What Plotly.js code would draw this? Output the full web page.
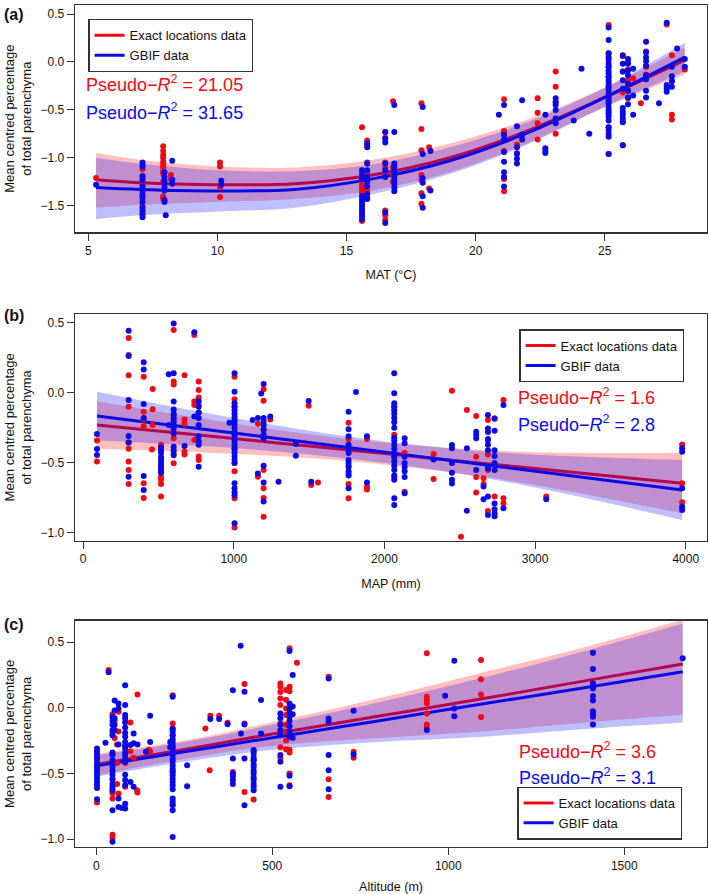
<!DOCTYPE html>
<html><head><meta charset="utf-8">
<script src="https://cdn.plot.ly/plotly-3.0.1.min.js"></script>
<style>html,body{margin:0;padding:0;background:#fff}</style>
</head><body><div id="chart" style="width:709px;height:894px"></div>
<script>
// ---------- Panel (a): MAT ----------
const matRedCols = [5.3, 7.1, 7.9, 8.2, 10.1, 15.6, 15.8, 16.5, 16.8, 17.9, 18.2, 21.1, 21.6, 22.4, 23.1, 25.15, 25.7, 25.9, 26.1, 26.4, 26.6, 27.4, 27.6, 28.1];
const matRedVals = [
  [-1.21],
  [-1.07, -1.12, -1.20, -1.30, -1.40, -1.50, -1.58],
  [-0.88, -0.93, -0.97, -1.00, -1.04, -1.07, -1.10, -1.14, -1.17, -1.25, -1.40, -1.43],
  [-1.18, -1.22],
  [-1.05, -1.09, -1.31, -1.41],
  [-0.68, -1.28, -1.31, -1.34, -1.37, -1.66],
  [-0.82, -0.87, -1.05, -1.16, -1.35, -1.42],
  [-0.73, -0.79, -1.05, -1.10, -1.55, -1.60, -1.65],
  [-0.41, -1.10, -1.18, -1.25],
  [-0.43, -0.70, -0.92, -1.18, -1.23, -1.37, -1.48],
  [-0.89, -1.32],
  [-0.39, -0.72, -0.75, -0.93, -1.22, -1.35],
  [-0.86, -0.95],
  [-0.38, -0.53, -0.64, -0.81],
  [-0.10, -0.26, -0.42, -0.60, -0.75],
  [0.385, 0.09, -0.05, -0.15, -0.25, -0.38, -0.52, -0.68, -0.96],
  [0.06, -0.10, -0.32, -0.62, -0.87],
  [0.00, -0.08, -0.20, -0.30, -0.38],
  [-0.17],
  [-0.43],
  [0.11, -0.05, -0.13],
  [0.39, -0.25],
  [0.07, -0.20, -0.55, -0.60],
  [-0.08]
];
const matBlueCols = [5.3, 7.1, 7.95, 8.0, 8.25, 10.15, 15.6, 15.8, 16.5, 16.85, 17.95, 18.25, 20.9, 21.1, 21.6, 21.8, 22.7, 23.1, 23.8, 24.1, 24.4, 25.15, 25.7, 25.9, 26.1, 26.6, 27.1, 27.4, 27.6, 27.8, 28.1];
const matBlueVals = [
  [-1.28],
  [-1.05, -1.09, -1.19, -1.23, -1.30, -1.34, -1.38, -1.42, -1.46, -1.52, -1.55, -1.59, -1.62],
  [-1.15, -1.20, -1.24, -1.27, -1.31, -1.34, -1.44, -1.46],
  [-1.60],
  [-1.03, -1.23, -1.27],
  [-1.24, -1.28],
  [-1.13, -1.17, -1.22, -1.40, -1.43, -1.46, -1.49, -1.52, -1.55, -1.58, -1.61, -1.64],
  [-0.85, -0.89, -1.06, -1.13, -1.20, -1.25, -1.30, -1.38, -1.43],
  [-0.73, -0.80, -0.84, -1.06, -1.13, -1.20, -1.57, -1.68],
  [-0.45, -0.73, -1.06, -1.09, -1.13, -1.16, -1.20, -1.24, -1.27, -1.31, -1.35],
  [-0.47, -0.96, -1.21, -1.26, -1.40, -1.52],
  [-0.93, -1.34],
  [-0.55],
  [-0.45, -0.76, -0.81, -0.94, -1.04, -1.15, -1.20, -1.30],
  [-0.67, -0.89, -0.96, -1.01, -1.06],
  [-0.40, -0.76, -0.81],
  [-0.55, -0.90, -0.93, -0.95],
  [-0.38, -0.42, -0.45, -0.50, -0.59, -0.64],
  [-0.61],
  [-0.07],
  [-0.75],
  [0.36, 0.23, 0.09, 0.05, 0.02, -0.02, -0.05, -0.09, -0.12, -0.16, -0.19, -0.22, -0.26, -0.29, -0.33, -0.36, -0.40, -0.43, -0.47, -0.50, -0.54, -0.57, -0.61, -0.68, -0.71, -0.75, -0.78, -0.96],
  [0.07, -0.02, -0.10, -0.19, -0.28, -0.48, -0.52, -0.55, -0.59, -0.63, -0.87],
  [0.03, -0.02, -0.09, -0.14, -0.23, -0.30, -0.37, -0.44],
  [-0.07, -0.35, -0.55],
  [0.21, 0.10, 0.05, 0.01, -0.04, -0.14, -0.18, -0.30, -0.37],
  [-0.43],
  [0.41, -0.24, -0.28, -0.31],
  [-0.05, -0.15, -0.20, -0.26],
  [0.14],
  [0.03, -0.05]
];
const matFitX      = [5.3, 7, 10, 13, 16, 19, 22, 25, 28.1];
const matRedFit    = [-1.23, -1.26, -1.28, -1.27, -1.18, -1.00, -0.72, -0.37, 0.02];
const matRedUpper  = [-0.95, -1.02, -1.09, -1.10, -1.02, -0.85, -0.60, -0.27, 0.15];
const matRedLower  = [-1.52, -1.49, -1.46, -1.43, -1.34, -1.15, -0.85, -0.47, -0.13];
const matBlueFit   = [-1.31, -1.33, -1.345, -1.33, -1.22, -1.03, -0.74, -0.37, 0.05];
const matBlueUpper = [-1.00, -1.06, -1.13, -1.14, -1.07, -0.89, -0.63, -0.27, 0.20];
const matBlueLower = [-1.64, -1.60, -1.56, -1.52, -1.38, -1.17, -0.86, -0.47, -0.10];

// ---------- Panel (b): MAP ----------
const mapRedCols = [92, 302, 402, 457, 462, 517, 601, 673, 738, 767, 1005, 1160, 1198, 1242, 1497, 1514, 1559, 1762, 1884, 2065, 2134, 2326, 2448, 2508, 2547, 2609, 2658, 2687, 2731, 2790, 3074, 3976];
const mapRedVals = [
  [-0.34, -0.49],
  [0.39, 0.27, 0.125, -0.10, -0.355, -0.40, -0.49, -0.55, -0.65],
  [0.115, -0.135, -0.19, -0.24, -0.646, -0.75],
  [-0.404],
  [0.027, -0.118, -0.23],
  [-0.37, -0.50, -0.55, -0.60, -0.62, -0.65, -0.74],
  [0.448, 0.08, 0.06, -0.15, -0.19, -0.325, -0.43, -0.503],
  [0.125, -0.19, -0.22, -0.42, -0.44],
  [0.412, -0.063, -0.087, -0.337],
  [0.08, 0.02, -0.033, -0.09, -0.14, -0.455, -0.48],
  [0.115, -0.046, -0.10, -0.20, -0.30, -0.40, -0.50, -0.56, -0.753, -0.96],
  [-0.22, -0.598],
  [0.025, -0.056, -0.26, -0.55, -0.68, -0.75, -0.884],
  [-0.19],
  [-0.092],
  [-0.658],
  [-0.639],
  [-0.213, -0.33, -0.52, -0.58, -0.65, -0.753],
  [-0.33, -0.67, -0.69],
  [-0.10, -0.30, -0.45, -0.60],
  [-0.43, -0.705],
  [-0.437, -0.615],
  [0.014],
  [-1.026],
  [-0.123],
  [-0.166, -0.456, -0.60, -0.712],
  [-0.61, -0.65],
  [-0.194, -0.34, -0.44, -0.55, -0.843],
  [-0.182, -0.74],
  [-0.052, -0.753, -0.788],
  [-0.74],
  [-0.368, -0.645, -0.78]
];
const mapBlueCols = [92, 302, 402, 517, 568, 601, 673, 738, 767, 972, 1005, 1125, 1160, 1182, 1198, 1242, 1297, 1412, 1497, 1514, 1762, 1811, 1884, 2065, 2134, 2326, 2448, 2547, 2609, 2658, 2687, 2731, 2790, 3074, 3976];
const mapBlueVals = [
  [-0.294, -0.401, -0.444],
  [0.443, 0.262, -0.052, -0.309, -0.355, -0.598],
  [0.217, 0.167, -0.08, -0.18, -0.594, -0.693],
  [-0.39, -0.41, -0.43, -0.46, -0.48, -0.51, -0.53, -0.55, -0.57],
  [0.132, -0.23],
  [0.495, 0.14, -0.063, -0.12, -0.155, -0.18, -0.205, -0.23, -0.255, -0.29, -0.385, -0.41, -0.445],
  [-0.38],
  [0.431, -0.17],
  [-0.06, -0.10, -0.14, -0.18, -0.23, -0.31, -0.345, -0.37, -0.527],
  [-0.213],
  [0.139, 0.008, -0.075, -0.10, -0.125, -0.15, -0.175, -0.20, -0.225, -0.25, -0.275, -0.30, -0.325, -0.35, -0.375, -0.40, -0.425, -0.45, -0.475, -0.50, -0.645, -0.68, -0.71, -0.73, -0.931],
  [-0.194],
  [-0.18, -0.575],
  [-0.005],
  [0.062, -0.18, -0.205, -0.23, -0.265, -0.30, -0.325, -0.52, -0.64, -0.776],
  [-0.17],
  [-0.634],
  [-0.366, -0.449],
  [-0.058],
  [-0.634],
  [-0.135, -0.26, -0.31, -0.37, -0.40, -0.43, -0.48, -0.50, -0.53, -0.56, -0.59, -0.68],
  [0.005],
  [-0.31, -0.64],
  [0.139, -0.004, -0.075, -0.10, -0.125, -0.15, -0.18, -0.21, -0.25, -0.32, -0.34, -0.37, -0.40, -0.43, -0.46, -0.49, -0.52, -0.55, -0.59, -0.62, -0.753, -0.80],
  [-0.325, -0.36, -0.456, -0.50, -0.53, -0.56, -0.60, -0.717],
  [-0.475],
  [-0.372, -0.396, -0.50, -0.57, -0.62, -0.647],
  [-0.396, -0.841],
  [-0.277, -0.30, -0.325, -0.55],
  [-0.668, -0.76],
  [-0.159, -0.254, -0.28, -0.33, -0.37, -0.41, -0.54, -0.74, -0.871],
  [-0.185, -0.27, -0.41, -0.45, -0.50, -0.55, -0.79, -0.83, -0.86, -0.88],
  [-0.087, -0.824],
  [-0.76],
  [-0.396, -0.42, -0.68, -0.812, -0.836]
];
const mapFitX      = [92, 800, 1500, 2200, 2900, 3976];
const mapRedFit    = [-0.23, -0.305, -0.38, -0.455, -0.53, -0.645];
const mapRedUpper  = [-0.06, -0.185, -0.295, -0.375, -0.42, -0.43];
const mapRedLower  = [-0.40, -0.425, -0.465, -0.535, -0.64, -0.86];
const mapBlueFit   = [-0.166, -0.26, -0.355, -0.45, -0.545, -0.693];
const mapBlueUpper = [0.008, -0.14, -0.27, -0.37, -0.435, -0.479];
const mapBlueLower = [-0.34, -0.38, -0.44, -0.53, -0.655, -0.907];

// ---------- Panel (c): Altitude ----------
const altRedCols = [2, 35, 46, 52, 59, 63, 82, 97, 106, 116, 117, 149, 153, 217, 310, 322, 324, 349, 373, 388, 421, 447, 523, 539, 549, 570, 660, 731, 939, 1093, 1411];
const altRedVals = [
  [-0.33, -0.38, -0.45, -0.72],
  [0.287],
  [-0.05, -0.19, -0.35, -0.55, -0.62, -0.65, -0.69, -0.965, -0.99],
  [-0.10, -0.23],
  [-0.28, -0.42, -0.58],
  [-0.03, -0.18, -0.653],
  [-0.29, -0.42, -0.60],
  [-0.112, -0.33],
  [-0.38],
  [-0.627],
  [0.101, -0.645],
  [-0.32],
  [-0.33],
  [0.096, -0.12, -0.16, -0.21, -0.28, -0.35, -0.48, -0.74],
  [-0.157],
  [-0.475],
  [-0.061],
  [-0.061],
  [-0.115],
  [-0.488],
  [0.18, -0.12, -0.64],
  [-0.33, -0.40, -0.698],
  [0.185, 0.16, 0.12, 0.07, 0.02, -0.12, -0.30, -0.38],
  [0.135, 0.06, -0.005, -0.055, -0.13, -0.18, -0.25, -0.315],
  [0.452, 0.16, 0.125, -0.32, -0.34, -0.50, -0.59],
  [0.343],
  [0.235, -0.543, -0.678],
  [-0.335, -0.38],
  [0.414, 0.084, 0.058, 0.033, -0.043, -0.127, -0.152],
  [0.363, 0.216, 0.101, -0.071],
  [0.419]
];
const altBlueCols = [2, 26, 35, 46, 52, 63, 73, 82, 97, 106, 117, 141, 153, 210, 217, 258, 324, 349, 373, 388, 410, 411, 421, 447, 468, 523, 549, 558, 660, 731, 939, 991, 1017, 1411, 1666];
const altBlueVals = [
  [-0.31, -0.335, -0.36, -0.385, -0.41, -0.435, -0.46, -0.485, -0.51, -0.535, -0.56, -0.585, -0.61, -0.696],
  [-0.267],
  [0.27],
  [-0.07, -0.10, -0.13, -0.17, -0.21, -0.34, -0.36, -0.40, -0.43, -0.45, -0.48, -0.51, -0.54, -0.58, -0.60, -0.63, -0.78, -1.02],
  [0.056, -0.02, -0.08, -0.13, -0.17],
  [0.033, -0.005, -0.28, -0.69, -0.754],
  [-0.762],
  [0.172, 0.02, -0.056, -0.08, -0.11, -0.15, -0.19, -0.22, -0.26, -0.29, -0.31, -0.34, -0.36, -0.39, -0.41, -0.51, -0.55, -0.59, -0.73, -0.767],
  [-0.284, -0.564],
  [-0.196, -0.27, -0.60],
  [-0.28],
  [-0.335],
  [-0.061, -0.26],
  [-0.26, -0.30],
  [0.084, -0.16, -0.18, -0.21, -0.24, -0.26, -0.29, -0.31, -0.34, -0.36, -0.39, -0.41, -0.44, -0.465, -0.49, -0.513, -0.54, -0.565, -0.59, -0.62, -0.69, -0.715, -0.74, -0.78, -0.983],
  [-0.437, -0.597],
  [-0.086],
  [-0.086],
  [-0.125],
  [0.134, -0.386, -0.50, -0.52, -0.55, -0.58],
  [0.472],
  [-0.196],
  [0.122, -0.127, -0.386, -0.742],
  [-0.322, -0.35, -0.38, -0.40, -0.43, -0.45, -0.48, -0.50, -0.53, -0.55, -0.58, -0.60, -0.627],
  [0.058, -0.196],
  [-0.043, -0.08, -0.13, -0.17, -0.21, -0.36, -0.41, -0.60],
  [0.431, 0.033, -0.005, -0.04, -0.07, -0.10, -0.14, -0.18, -0.22, -0.518, -0.597],
  [0.249, 0.01, -0.05, -0.23],
  [0.223, -0.081, -0.107, -0.36, -0.475, -0.62],
  [-0.023, -0.355],
  [-0.17],
  [0.091],
  [0.358, -0.005, -0.064],
  [0.419, 0.294, 0.185, 0.165, 0.147, 0.089, 0.056, -0.026, -0.048, -0.069, -0.127],
  [0.376]
];
const altFitX      = [0, 250, 500, 800, 1100, 1400, 1666];
const altRedFit    = [-0.432, -0.317, -0.20, -0.065, 0.07, 0.21, 0.333];
const altRedUpper  = [-0.35, -0.25, -0.11, 0.07, 0.27, 0.47, 0.67];
const altRedLower  = [-0.515, -0.39, -0.29, -0.23, -0.18, -0.11, -0.056];
const altBlueFit   = [-0.442, -0.335, -0.228, -0.10, 0.03, 0.158, 0.274];
const altBlueUpper = [-0.36, -0.26, -0.13, 0.04, 0.23, 0.44, 0.64];
const altBlueLower = [-0.525, -0.41, -0.32, -0.26, -0.22, -0.16, -0.112];

const seriesNames = ['Exact locations data', 'GBIF data'];
const r2Labels = [['21.05', '31.65'], ['1.6', '2.8'], ['3.6', '3.1']];
const axisTitles = ['MAT (°C)', 'MAP (mm)', 'Altitude (m)'];
const panelLabels = ['(a)', '(b)', '(c)'];

// ---------- styling ----------
const FONT = 'Liberation Sans, Arial, Helvetica, sans-serif';
const RED = '#f00a14', BLUE = '#0a0ae8';
const RED_BAND = 'rgba(255,0,0,0.25)', BLUE_BAND = 'rgba(0,0,255,0.25)';

function flat(cols, vals) {
  const xs = [], ys = [];
  cols.forEach((c, i) => vals[i].forEach(v => { xs.push(c); ys.push(v); }));
  return {xs, ys};
}
function bandLower(x, lo, color, ax, shape) {
  return {x: x, y: lo, xaxis: 'x' + ax, yaxis: 'y' + ax, mode: 'lines',
    line: {width: 0, color: color, shape: shape}, hoverinfo: 'skip', showlegend: false};
}
function bandUpper(x, up, color, ax, shape) {
  return {x: x, y: up, xaxis: 'x' + ax, yaxis: 'y' + ax, mode: 'lines', fill: 'tonexty', fillcolor: color,
    line: {width: 0, color: color, shape: shape}, hoverinfo: 'skip', showlegend: false};
}
function fit(x, y, color, ax, shape, name, leg) {
  return {x: x, y: y, xaxis: 'x' + ax, yaxis: 'y' + ax, mode: 'lines', name: name,
    line: {color: color, width: 3, shape: shape}, legend: leg, showlegend: true};
}
function pts(cols, vals, color, ax) {
  const f = flat(cols, vals);
  return {x: f.xs, y: f.ys, xaxis: 'x' + ax, yaxis: 'y' + ax, mode: 'markers',
    marker: {color: color, size: 6}, showlegend: false, cliponaxis: false};
}

const panels = [
  {ax: '', leg: 'legend', shape: 'spline', fx: matFitX, rf: matRedFit, ru: matRedUpper, rl: matRedLower, bf: matBlueFit, bu: matBlueUpper, bl: matBlueLower, rc: matRedCols, rv: matRedVals, bc: matBlueCols, bv: matBlueVals},
  {ax: '2', leg: 'legend2', shape: 'spline', fx: mapFitX, rf: mapRedFit, ru: mapRedUpper, rl: mapRedLower, bf: mapBlueFit, bu: mapBlueUpper, bl: mapBlueLower, rc: mapRedCols, rv: mapRedVals, bc: mapBlueCols, bv: mapBlueVals},
  {ax: '3', leg: 'legend3', shape: 'spline', fx: altFitX, rf: altRedFit, ru: altRedUpper, rl: altRedLower, bf: altBlueFit, bu: altBlueUpper, bl: altBlueLower, rc: altRedCols, rv: altRedVals, bc: altBlueCols, bv: altBlueVals}
];
const data = [];
panels.forEach(p => {
  data.push(bandLower(p.fx, p.rl, RED_BAND, p.ax, p.shape));
  data.push(bandUpper(p.fx, p.ru, RED_BAND, p.ax, p.shape));
  data.push(fit(p.fx, p.rf, RED, p.ax, p.shape, seriesNames[0], p.leg));
  data.push(bandLower(p.fx, p.bl, BLUE_BAND, p.ax, p.shape));
  data.push(bandUpper(p.fx, p.bu, BLUE_BAND, p.ax, p.shape));
  data.push(fit(p.fx, p.bf, BLUE, p.ax, p.shape, seriesNames[1], p.leg));
  data.push(pts(p.rc, p.rv, RED, p.ax));
  data.push(pts(p.bc, p.bv, BLUE, p.ax));
});

const L = 75, R = 2, T = 5, B = 47, W = 709, H = 894;
const PW = W - L - R, PH = H - T - B;
const px2x = px => (px - L) / PW;
const py2y = py => (H - B - py) / PH;

function xa(range, dtick, title) {
  return {range: range, dtick: dtick, tick0: 0, showgrid: false, zeroline: false,
    showline: true, mirror: true, linecolor: '#333', linewidth: 1.3,
    ticks: 'outside', ticklen: 7, tickcolor: '#333', tickwidth: 1,
    tickfont: {family: FONT, size: 12, color: '#111'},
    title: {text: title, font: {family: FONT, size: 12.5, color: '#111'}, standoff: 13},
    automargin: false};
}
function ya(range, anchor, dom) {
  return {range: range, domain: dom, anchor: anchor, dtick: 0.5, tick0: 0, tickformat: '.1f',
    showgrid: false, zeroline: false,
    showline: true, mirror: true, linecolor: '#333', linewidth: 1.3,
    ticks: 'outside', ticklen: 7, tickcolor: '#333', tickwidth: 1,
    tickfont: {family: FONT, size: 12, color: '#111'},
    title: {text: 'Mean centred percentage<br>of total parenchyma', font: {family: FONT, size: 13, color: '#111'}, standoff: 6},
    automargin: false};
}
const domA = [py2y(232.3), py2y(5)], domB = [py2y(540.7), py2y(314)], domC = [0, py2y(620.7)];

function legendAt(pxLeft, pyTop) {
  return {x: px2x(pxLeft), y: py2y(pyTop), xanchor: 'left', yanchor: 'top', traceorder: 'normal',
    bordercolor: '#333', borderwidth: 1.3, bgcolor: '#fff',
    font: {family: FONT, size: 13, color: '#111'}, itemwidth: 30, tracegroupgap: 0};
}

const ann = [];
const labelY = [14, 315, 624];
panelLabels.forEach((t, i) => ann.push({text: '<b>' + t + '</b>', xref: 'paper', yref: 'paper',
  x: px2x(2), y: py2y(labelY[i]), xanchor: 'left', yanchor: 'middle', showarrow: false,
  font: {family: FONT, size: 16, color: '#111'}}));
const r2Pos = [[84, 83.3, 111.7], [516, 396, 423.3], [516.7, 750, 776]];
r2Pos.forEach((p, i) => {
  ann.push({text: 'Pseudo\u2212<i>R</i><sup>2</sup> = ' + r2Labels[i][0], xref: 'paper', yref: 'paper',
    x: px2x(p[0]), y: py2y(p[1]), xanchor: 'left', yanchor: 'middle', showarrow: false,
    font: {family: FONT, size: 18, color: RED}});
  ann.push({text: 'Pseudo\u2212<i>R</i><sup>2</sup> = ' + r2Labels[i][1], xref: 'paper', yref: 'paper',
    x: px2x(p[0]), y: py2y(p[2]), xanchor: 'left', yanchor: 'middle', showarrow: false,
    font: {family: FONT, size: 18, color: BLUE}});
});

const layout = {
  width: W, height: H, margin: {l: L, r: R, t: T, b: B},
  paper_bgcolor: '#fff', plot_bgcolor: '#fff',
  font: {family: FONT, color: '#111'},
  xaxis: Object.assign(xa([4.485, 28.96], 5, axisTitles[0]), {anchor: 'y'}),
  yaxis: ya([-1.777, 0.594], 'x', domA),
  xaxis2: Object.assign(xa([-54, 4141], 1000, axisTitles[1]), {anchor: 'y2'}),
  yaxis2: ya([-1.055, 0.562], 'x2', domB),
  xaxis3: Object.assign(xa([-60.5, 1735], 500, axisTitles[2]), {anchor: 'y3'}),
  yaxis3: ya([-1.059, 0.662], 'x3', domC),
  legend: legendAt(88.3, 19),
  legend2: legendAt(519.3, 329.3),
  legend3: legendAt(517.3, 786.7),
  annotations: ann,
  showlegend: true
};
Plotly.newPlot('chart', data, layout, {displayModeBar: false, staticPlot: true});
</script>
</body></html>
